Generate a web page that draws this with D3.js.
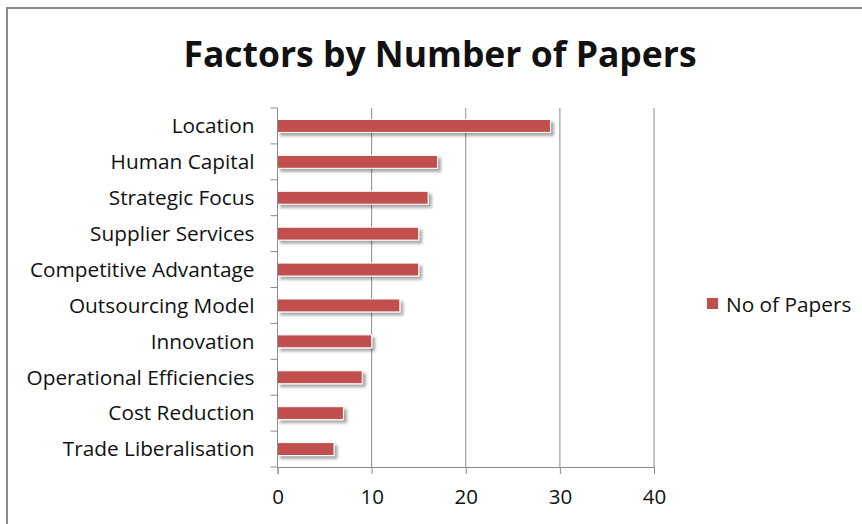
<!DOCTYPE html>
<html>
<head>
<meta charset="utf-8">
<title>Factors by Number of Papers</title>
<script src="https://cdn.jsdelivr.net/npm/d3@7"></script>
<style>
  body { margin: 0; background: #fff; }
  text { font-family: "Open Sans", Lato, sans-serif; fill: #111; }
</style>
</head>
<body>
<div id="chart"></div>
<script>
// data
var categories = ["Location", "Human Capital", "Strategic Focus", "Supplier Services",
  "Competitive Advantage", "Outsourcing Model", "Innovation", "Operational Efficiencies",
  "Cost Reduction", "Trade Liberalisation"];
var papers = [29, 17, 16, 15, 15, 13, 10, 9, 7, 6];
var xTicks = [0, 10, 20, 30, 40];
var seriesName = "No of Papers";

var W = 862, H = 524;
var m = { left: 277.5, right: 862 - 654, top: 108, bottom: 524 - 467 };

var svg = d3.select("#chart").append("svg")
  .attr("width", W).attr("height", H);

var defs = svg.append("defs");
var f = defs.append("filter").attr("id", "shadow")
  .attr("x", "-10%").attr("y", "-30%").attr("width", "130%").attr("height", "200%");
f.append("feDropShadow").attr("dx", 3).attr("dy", 3).attr("stdDeviation", 1.8)
  .attr("flood-color", "#000").attr("flood-opacity", 0.35);

// outer frame (cut off at right and bottom)
svg.append("path")
  .attr("d", "M7,524 L7,8 L862,8")
  .attr("fill", "none").attr("stroke", "#8c8c8c").attr("stroke-width", 2);

svg.append("text")
  .attr("x", 440).attr("y", 67)
  .attr("text-anchor", "middle")
  .style("font-size", "35.5px").style("font-weight", "bold")
  .text("Factors by Number of Papers");

var x = d3.scaleLinear().domain([0, 40]).range([m.left, W - m.right]);
var y = d3.scaleBand().domain(categories).range([m.top, H - m.bottom]).paddingInner(0.64).paddingOuter(0.32);

// gridlines
svg.append("g").selectAll("line").data(xTicks.slice(1)).join("line")
  .attr("x1", d => x(d)).attr("x2", d => x(d))
  .attr("y1", m.top).attr("y2", H - m.bottom)
  .attr("stroke", "#8c8c8c").attr("stroke-width", 1);

// bars
svg.append("g").selectAll("rect").data(categories).join("rect")
  .attr("x", x(0))
  .attr("y", d => y(d))
  .attr("width", (d, i) => x(papers[i]) - x(0))
  .attr("height", y.bandwidth())
  .attr("fill", "#C0504D")
  .attr("stroke", "#fff").attr("stroke-width", 1)
  .attr("filter", "url(#shadow)");

// x axis
var xAxis = svg.append("g")
  .attr("transform", "translate(0," + (H - m.bottom) + ")")
  .call(d3.axisBottom(x).tickValues(xTicks).tickSize(7).tickPadding(15));
xAxis.select(".domain").attr("stroke", "#8c8c8c");
xAxis.selectAll(".tick line").attr("stroke", "#8c8c8c");
xAxis.selectAll("text").style("font-size", "20.5px").attr("fill", "#111");

// y axis: ticks between categories
var bounds = d3.range(categories.length + 1).map(i => m.top + i * (H - m.bottom - m.top) / categories.length);
var yAxis = svg.append("g");
yAxis.append("line")
  .attr("x1", x(0)).attr("x2", x(0)).attr("y1", m.top).attr("y2", H - m.bottom)
  .attr("stroke", "#8c8c8c");
yAxis.selectAll(".tk").data(bounds).join("line").attr("class", "tk")
  .attr("x1", x(0) - 7).attr("x2", x(0)).attr("y1", d => d).attr("y2", d => d)
  .attr("stroke", "#8c8c8c");
yAxis.selectAll("text").data(categories).join("text")
  .attr("x", x(0) - 23)
  .attr("y", d => y(d) + y.bandwidth() / 2)
  .attr("dy", "0.35em")
  .attr("text-anchor", "end")
  .style("font-size", "20.8px")
  .text(d => d);

// legend
var lg = svg.append("g").attr("transform", "translate(707,298)");
lg.append("rect").attr("width", 11).attr("height", 11).attr("fill", "#C0504D");
lg.append("text").attr("x", 19).attr("y", 7).attr("dy", "0.35em")
  .style("font-size", "20.8px").text(seriesName);
</script>
</body>
</html>
